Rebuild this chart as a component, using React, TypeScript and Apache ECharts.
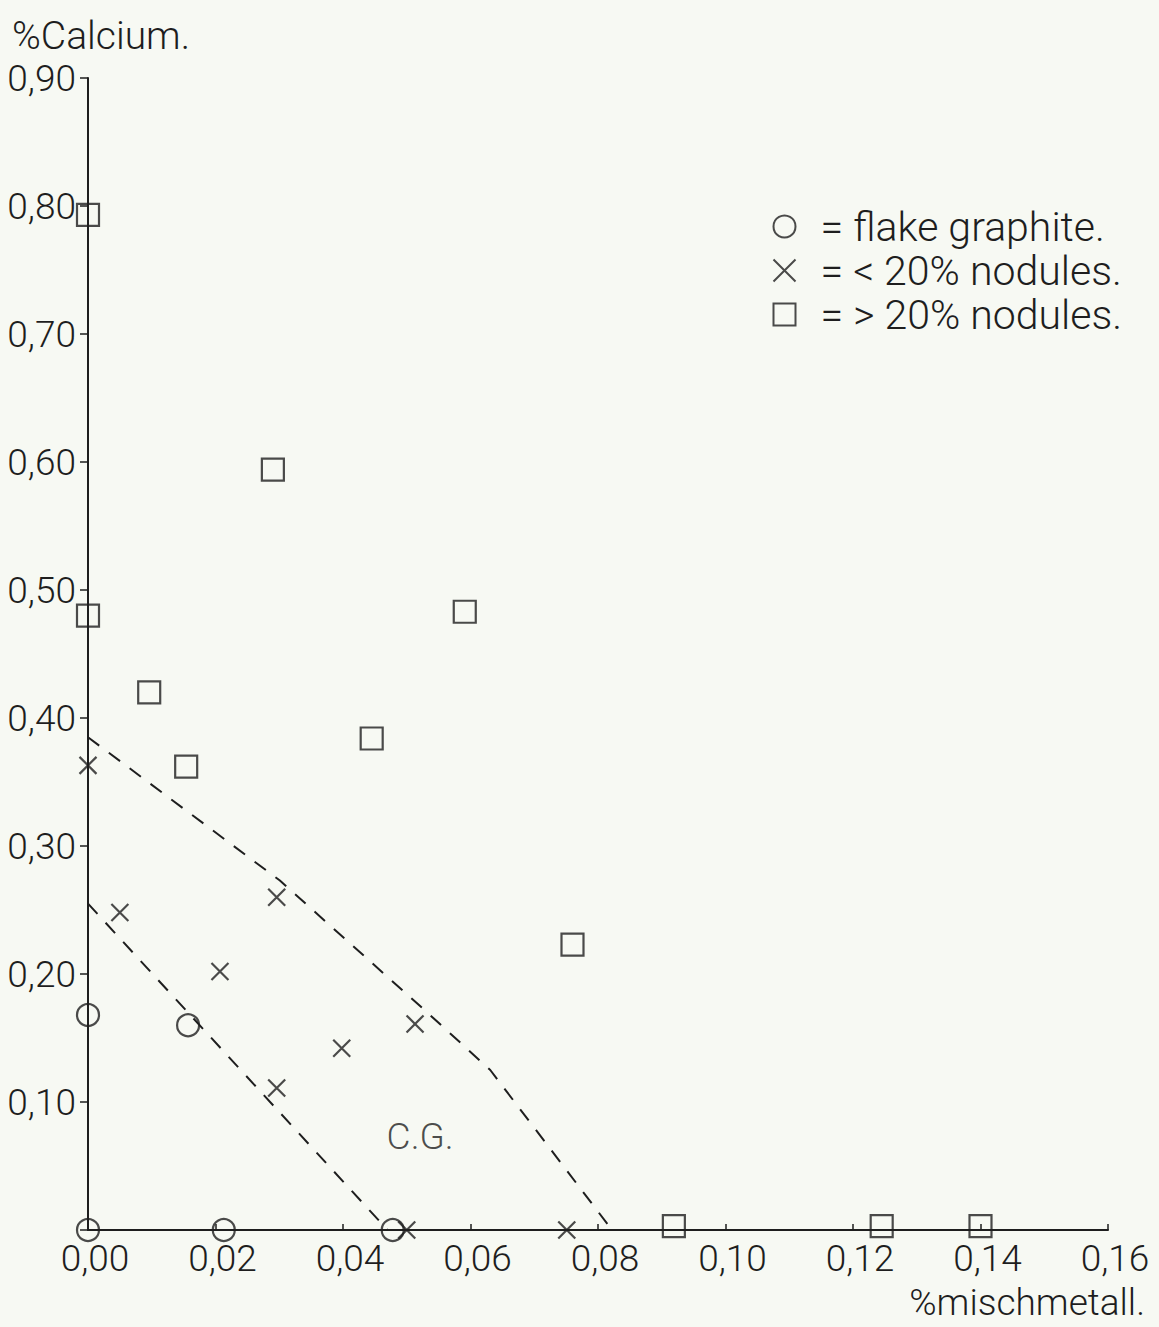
import React, { useEffect, useRef } from "react";
import * as echarts from "echarts";

const xTicks = [0, 0.02, 0.04, 0.06, 0.08, 0.1, 0.12, 0.14, 0.16];
const yTicks = [0, 0.1, 0.2, 0.3, 0.4, 0.5, 0.6, 0.7, 0.8, 0.9];

const flakeGraphite: [number, number][] = [
  [0, 0.168], [0.0157, 0.16], [0, 0], [0.0213, 0], [0.0478, 0],
];
const under20: [number, number][] = [
  [0, 0.363], [0.005, 0.248], [0.0207, 0.202], [0.0296, 0.26], [0.0296, 0.111],
  [0.0398, 0.142], [0.0513, 0.161], [0.05, 0], [0.0751, 0],
];
const over20: [number, number][] = [
  [0, 0.793], [0, 0.48], [0.0096, 0.42], [0.0154, 0.362], [0.029, 0.594],
  [0.0591, 0.483], [0.0445, 0.384], [0.076, 0.223], [0.0919, 0.003],
  [0.1245, 0.003], [0.14, 0.003],
];
const innerBoundary: [number, number][] = [[0, 0.255], [0.047, 0]];
const outerBoundary: [number, number][] = [
  [0, 0.385], [0.0301, 0.273], [0.0532, 0.17], [0.0631, 0.125], [0.0822, 0],
];
const cgLabel: [number, number][] = [[0.0521, 0.073]];

const names = ["flake graphite.", "< 20% nodules.", "> 20% nodules."];

const FONT = "Roboto, 'DejaVu Sans Condensed', sans-serif";
const INK = "#1e1e1e";
const fmt = (v: number) => v.toFixed(2).replace(".", ",");
const CROSS = "path://M0,0L10,10M10,0L0,10";

export default function App() {
  const ref = useRef<HTMLDivElement>(null);
  useEffect(() => {
    document.body.style.margin = "0";
    const chart = echarts.init(ref.current!, null, { renderer: "svg" });
    const markerStyle = { color: "none", borderColor: INK, borderWidth: 2.2 };
    const txt = { fontSize: 37, fontFamily: FONT, fontWeight: 300, color: INK };
    chart.setOption({
      animation: false,
      backgroundColor: "#f7f9f3",
      textStyle: { fontFamily: FONT, color: INK },
      grid: { left: 88, right: 51, top: 78, bottom: 97, containLabel: false, outerBoundsMode: "none" },
      xAxis: {
        type: "value",
        min: xTicks[0],
        max: xTicks[xTicks.length - 1],
        interval: 0.02,
        axisLine: { lineStyle: { color: INK, width: 2 } },
        axisTick: { show: true, inside: true, length: 6, lineStyle: { color: INK, width: 1.5 } },
        axisLabel: { ...txt, formatter: fmt, margin: 10, padding: [0, 0, 0, 14] },
        splitLine: { show: false },
      },
      yAxis: {
        type: "value",
        min: yTicks[0],
        max: yTicks[yTicks.length - 1],
        interval: 0.1,
        axisLine: { show: true, lineStyle: { color: INK, width: 2 } },
        axisTick: { show: true, inside: false, length: 8, lineStyle: { color: INK, width: 1.5 } },
        axisLabel: { ...txt, formatter: (v: number) => (v === 0 ? "" : fmt(v)), margin: 12 },
        splitLine: { show: false },
      },
      legend: {
        data: names,
        orient: "vertical",
        left: 766,
        top: 201,
        itemWidth: 22,
        itemHeight: 22,
        itemGap: 3,
        textStyle: { ...txt, fontSize: 41, padding: [0, 0, 0, 20] },
        formatter: (n: string) => "= " + n,
      },
      graphic: [
        { type: "text", left: 12, top: 16, style: { text: "%Calcium.", font: `300 39px ${FONT}`, fill: INK } },
        { type: "text", right: 14, top: 1284, style: { text: "%mischmetall.", font: `300 37px ${FONT}`, fill: INK } },
      ],
      series: [
        {
          name: names[0], type: "scatter", data: flakeGraphite, symbol: "circle", symbolSize: 22,
          itemStyle: markerStyle, z: 5,
        },
        {
          name: names[1], type: "scatter", data: under20, symbol: CROSS, symbolSize: 17,
          itemStyle: markerStyle, z: 5,
        },
        {
          name: names[2], type: "scatter", data: over20, symbol: "rect", symbolSize: 22,
          itemStyle: markerStyle, z: 5,
        },
        {
          name: "inner", type: "line", data: innerBoundary, showSymbol: false, symbol: "none",
          lineStyle: { color: INK, width: 2, type: [14, 12] }, z: 3,
        },
        {
          name: "outer", type: "line", data: outerBoundary, showSymbol: false, symbol: "none",
          lineStyle: { color: INK, width: 2, type: [14, 12] }, z: 3,
        },
        {
          name: "C.G.", type: "scatter", data: cgLabel, symbolSize: 0, silent: true,
          label: { show: true, formatter: "C.G.", position: "inside", ...txt },
        },
      ],
    });
    return () => chart.dispose();
  }, []);
  return <div ref={ref} style={{ width: 1159, height: 1327 }} />;
}
